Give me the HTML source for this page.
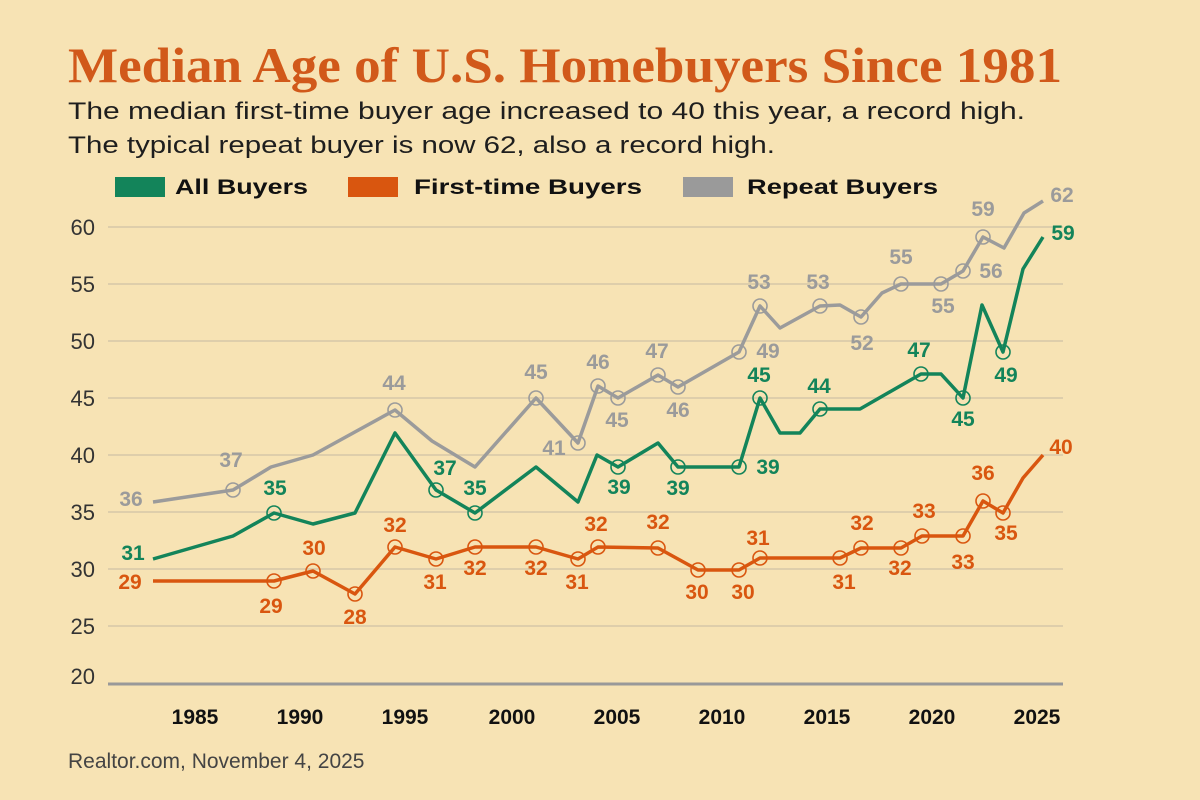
<!DOCTYPE html>
<html><head><meta charset="utf-8"><style>
html,body{margin:0;padding:0;background:#f7e3b4;}
svg{display:block}
</style></head><body>
<svg width="1200" height="800" viewBox="0 0 1200 800" xmlns="http://www.w3.org/2000/svg">
<rect width="1200" height="800" fill="#f7e3b4"/>
<text x="68" y="82" font-family="Liberation Serif, serif" font-weight="bold" font-size="50" fill="#d1591a" textLength="994" lengthAdjust="spacingAndGlyphs">Median Age of U.S. Homebuyers Since 1981</text>
<text x="68" y="119" font-family="Liberation Sans, sans-serif" font-size="24" fill="#1e1e1e" textLength="957" lengthAdjust="spacingAndGlyphs">The median first-time buyer age increased to 40 this year, a record high.</text>
<text x="68" y="153" font-family="Liberation Sans, sans-serif" font-size="24" fill="#1e1e1e" textLength="707" lengthAdjust="spacingAndGlyphs">The typical repeat buyer is now 62, also a record high.</text>
<g font-family="Liberation Sans, sans-serif" font-weight="bold" font-size="21" fill="#111">
<rect x="115" y="177" width="50" height="20" fill="#13845a"/><text x="175" y="194" textLength="133" lengthAdjust="spacingAndGlyphs">All Buyers</text>
<rect x="348" y="177" width="50" height="20" fill="#d9560f"/><text x="414" y="194" textLength="228" lengthAdjust="spacingAndGlyphs">First-time Buyers</text>
<rect x="683" y="177" width="50" height="20" fill="#9a9a9a"/><text x="747" y="194" textLength="191" lengthAdjust="spacingAndGlyphs">Repeat Buyers</text>
</g>
<g stroke="#d6c8a8" stroke-width="1.5">
<line x1="108" x2="1063" y1="227" y2="227"/><line x1="108" x2="1063" y1="284" y2="284"/><line x1="108" x2="1063" y1="341" y2="341"/><line x1="108" x2="1063" y1="398" y2="398"/><line x1="108" x2="1063" y1="455" y2="455"/><line x1="108" x2="1063" y1="512" y2="512"/><line x1="108" x2="1063" y1="569" y2="569"/><line x1="108" x2="1063" y1="626" y2="626"/>
</g>
<line x1="108" x2="1063" y1="684" y2="684" stroke="#999" stroke-width="3"/>
<g font-family="Liberation Sans, sans-serif" font-size="22" fill="#333" text-anchor="end">
<text x="95" y="235">60</text><text x="95" y="292">55</text><text x="95" y="349">50</text><text x="95" y="406">45</text><text x="95" y="463">40</text><text x="95" y="520">35</text><text x="95" y="577">30</text><text x="95" y="634">25</text><text x="95" y="684">20</text>
</g>
<g font-family="Liberation Sans, sans-serif" font-weight="bold" font-size="21" fill="#111" text-anchor="middle">
<text x="195" y="724">1985</text><text x="300" y="724">1990</text><text x="405" y="724">1995</text><text x="512" y="724">2000</text><text x="617" y="724">2005</text><text x="722" y="724">2010</text><text x="827" y="724">2015</text><text x="932" y="724">2020</text><text x="1037" y="724">2025</text>
</g>
<text x="68" y="768" font-family="Liberation Sans, sans-serif" font-size="21" fill="#444">Realtor.com, November 4, 2025</text>
<g fill="none" stroke-width="3.5" stroke-linejoin="round">
<polyline stroke="#9b9b9b" points="153,502 233,490 271,467 313,455 395,410 432,441 475,467 536,398 578,443 598,386 618,398 658,375 678,387 739,352 760,306 780,328 820,306 840,305 861,317 882,293 901,284 941,284 963,271 983,237 1004,248 1024,213 1043,201"/>
<polyline stroke="#13845a" points="153,559 233,536 274,513 313,524 355,513 395,433 436,490 475,513 536,467 578,502 597,455 618,467 658,443 678,467 739,467 760,398 780,433 800,433 820,409 860,409 921,374 941,374 963,398 982,305 1003,352 1023,269 1043,237"/>
<polyline stroke="#d9560f" points="153,581 274,581 313,571 355,594 395,547 436,559 475,547 536,547 578,559 598,547 658,548 698,570 739,570 760,558 840,558 861,548 901,548 922,536 963,536 983,501 1003,513 1023,478 1043,455"/>
</g>
<g fill="none" stroke-width="1.6">
<g stroke="#9b9b9b"><circle cx="233" cy="490" r="7"/><circle cx="395" cy="410" r="7"/><circle cx="536" cy="398" r="7"/><circle cx="578" cy="443" r="7"/><circle cx="598" cy="386" r="7"/><circle cx="618" cy="398" r="7"/><circle cx="658" cy="375" r="7"/><circle cx="678" cy="387" r="7"/><circle cx="739" cy="352" r="7"/><circle cx="760" cy="306" r="7"/><circle cx="820" cy="306" r="7"/><circle cx="861" cy="317" r="7"/><circle cx="901" cy="284" r="7"/><circle cx="941" cy="284" r="7"/><circle cx="963" cy="271" r="7"/><circle cx="983" cy="237" r="7"/></g>
<g stroke="#13845a"><circle cx="274" cy="513" r="7"/><circle cx="436" cy="490" r="7"/><circle cx="475" cy="513" r="7"/><circle cx="618" cy="467" r="7"/><circle cx="678" cy="467" r="7"/><circle cx="739" cy="467" r="7"/><circle cx="760" cy="398" r="7"/><circle cx="820" cy="409" r="7"/><circle cx="921" cy="374" r="7"/><circle cx="963" cy="398" r="7"/><circle cx="1003" cy="352" r="7"/></g>
<g stroke="#d9560f"><circle cx="274" cy="581" r="7"/><circle cx="313" cy="571" r="7"/><circle cx="355" cy="594" r="7"/><circle cx="395" cy="547" r="7"/><circle cx="436" cy="559" r="7"/><circle cx="475" cy="547" r="7"/><circle cx="536" cy="547" r="7"/><circle cx="578" cy="559" r="7"/><circle cx="598" cy="547" r="7"/><circle cx="658" cy="548" r="7"/><circle cx="698" cy="570" r="7"/><circle cx="739" cy="570" r="7"/><circle cx="760" cy="558" r="7"/><circle cx="840" cy="558" r="7"/><circle cx="861" cy="548" r="7"/><circle cx="901" cy="548" r="7"/><circle cx="922" cy="536" r="7"/><circle cx="963" cy="536" r="7"/><circle cx="983" cy="501" r="7"/><circle cx="1003" cy="513" r="7"/></g>
</g>
<g font-family="Liberation Sans, sans-serif" font-weight="bold" font-size="21" text-anchor="middle">
<g fill="#9b9b9b"><text x="131" y="506">36</text><text x="231" y="467">37</text><text x="394" y="390">44</text><text x="536" y="379">45</text><text x="554" y="455">41</text><text x="598" y="369">46</text><text x="617" y="427">45</text><text x="657" y="358">47</text><text x="678" y="417">46</text><text x="768" y="358">49</text><text x="759" y="289">53</text><text x="818" y="289">53</text><text x="862" y="350">52</text><text x="901" y="264">55</text><text x="943" y="313">55</text><text x="991" y="278">56</text><text x="983" y="216">59</text><text x="1062" y="202">62</text></g>
<g fill="#13845a"><text x="133" y="560">31</text><text x="275" y="495">35</text><text x="445" y="475">37</text><text x="475" y="495">35</text><text x="619" y="494">39</text><text x="678" y="495">39</text><text x="768" y="474">39</text><text x="759" y="382">45</text><text x="819" y="393">44</text><text x="919" y="357">47</text><text x="963" y="426">45</text><text x="1006" y="382">49</text><text x="1063" y="240">59</text></g>
<g fill="#d9560f"><text x="130" y="589">29</text><text x="271" y="613">29</text><text x="314" y="555">30</text><text x="355" y="624">28</text><text x="395" y="532">32</text><text x="435" y="589">31</text><text x="475" y="575">32</text><text x="536" y="575">32</text><text x="577" y="589">31</text><text x="596" y="531">32</text><text x="658" y="529">32</text><text x="697" y="599">30</text><text x="743" y="599">30</text><text x="758" y="545">31</text><text x="844" y="589">31</text><text x="862" y="530">32</text><text x="900" y="575">32</text><text x="924" y="518">33</text><text x="963" y="569">33</text><text x="983" y="480">36</text><text x="1006" y="540">35</text><text x="1061" y="454">40</text></g>
</g>
</svg>
</body></html>
